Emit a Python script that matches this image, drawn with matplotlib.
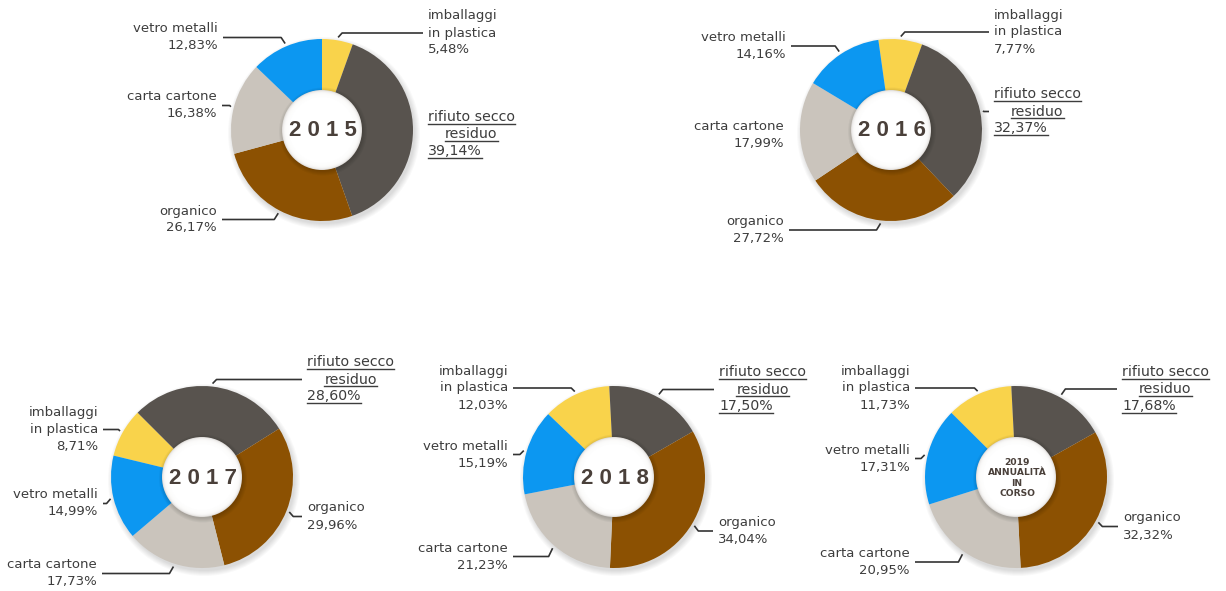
import numpy as np
import matplotlib
matplotlib.use("Agg")
import matplotlib.pyplot as plt
from matplotlib.patches import Circle

# values (%) per year, slice order is clockwise: imballaggi, rifiuto, organico, carta, vetro
years = ["2015", "2016", "2017", "2018", "2019"]
centre_text = ["2 0 1 5", "2 0 1 6", "2 0 1 7", "2 0 1 8", "2019\nANNUALITÀ\nIN\nCORSO"]
categories = ["imballaggi\nin plastica", "rifiuto secco\nresiduo", "organico", "carta cartone", "vetro metalli"]
imballaggi = [5.48, 7.77, 8.71, 12.03, 11.73]
rifiuto = [39.14, 32.37, 28.60, 17.50, 17.68]
organico = [26.17, 27.72, 29.96, 34.04, 32.32]
carta = [16.38, 17.99, 17.73, 21.23, 20.95]
vetro = [12.83, 14.16, 14.99, 15.19, 17.31]
colors = ["#F9D34B", "#58534E", "#8C5102", "#CAC4BC", "#0C97F1"]

# layout (pixels, y downwards)
centres = [(322, 130), (891, 130), (202, 477), (614, 477), (1016, 477)]
start_deg = [0, -8, -76.4, -46.3, -45.2]   # clockwise from 12 o'clock
R, R_IN = 91, 40
# label anchor x, block centre y, side (-1 left / +1 right), draw leader
labels = [
    [(428, 33, 1, True), (428, 134, 1, False), (217, 219.5, -1, True), (217, 105.5, -1, True), (218, 37.5, -1, True)],
    [(994, 32, 1, True), (994, 111.5, 1, True), (784, 230, -1, True), (784, 135, -1, False), (786, 46, -1, True)],
    [(98, 429.5, -1, True), (307, 379.5, 1, True), (307, 516.5, 1, True), (97, 573.5, -1, True), (98, 503.5, -1, True)],
    [(508, 388, -1, True), (719, 389.5, 1, True), (718, 531, 1, True), (508, 556.5, -1, True), (508, 454.5, -1, True)],
    [(910, 388, -1, True), (1122, 389, 1, True), (1123, 526.5, 1, True), (910, 562, -1, True), (910, 458.5, -1, True)],
]
LINE = 17
TXT = "#3d3d3d"

fig = plt.figure(figsize=(12.26, 5.91), dpi=100)
ax = fig.add_axes([0, 0, 1, 1])
renderer = fig.canvas.get_renderer()


def set_limits():
    ax.set_xlim(0, 1226)
    ax.set_ylim(591, 0)
    ax.set_aspect("auto")


def underline(t):
    bb = t.get_window_extent(renderer=renderer).transformed(ax.transData.inverted())
    y = max(bb.y0, bb.y1) - 0.5
    ax.plot([bb.x0, bb.x1], [y, y], color=TXT, lw=1.0)


for i, yr in enumerate(years):
    cx, cy = centres[i]
    vals = [imballaggi[i], rifiuto[i], organico[i], carta[i], vetro[i]]

    # soft outer shadow
    for k in range(6):
        ax.add_patch(Circle((cx + 2, cy + 3), R + 5 - k, color="#000000", alpha=0.022, lw=0))

    ax.pie(vals, colors=colors, center=(cx, cy), radius=R, startangle=-90 + start_deg[i],
           counterclock=True, wedgeprops=dict(width=R - R_IN + 4, linewidth=0), frame=False)
    set_limits()

    # shadow of the centre disc, then the disc itself
    for k in range(5):
        ax.add_patch(Circle((cx + 1, cy + 1.5), R_IN + 4 - k, color="#000000", alpha=0.035, lw=0))
    ax.add_patch(Circle((cx, cy), R_IN, color="#dedbd8", lw=0))
    for k in range(9):
        ax.add_patch(Circle((cx, cy), R_IN - 0.6 - k * 0.7, color="white", alpha=0.4, lw=0))
    ax.add_patch(Circle((cx, cy), R_IN - 7, color="white", lw=0))

    if i < 4:
        ax.text(cx + 1, cy + 1, centre_text[i], ha="center", va="center", fontsize=16,
                fontweight="bold", family="Liberation Sans", color="#4a403a")
    else:
        ax.text(cx + 1, cy + 1, centre_text[i], ha="center", va="center", fontsize=6.6,
                fontweight="bold", family="DejaVu Sans", color="#4a403a", linespacing=1.15)

    # labels and leader lines
    cum = start_deg[i]
    for j, v in enumerate(vals):
        span = v * 3.6
        mid = np.radians(cum + span / 2)
        cum += span
        lx, ly, side, leader = labels[i][j]
        pct = f"{v:.2f}".replace(".", ",") + "%"
        lines = categories[j].split("\n") + [pct]
        y0 = ly - (len(lines) - 1) * LINE / 2
        ha = "left" if side > 0 else "right"
        if j == 1:
            t1 = ax.text(lx, y0, lines[0], ha="left", va="center", fontsize=10.2, color=TXT)
            bb = t1.get_window_extent(renderer=renderer).transformed(ax.transData.inverted())
            t2 = ax.text((bb.x0 + bb.x1) / 2, y0 + LINE, lines[1], ha="center", va="center",
                         fontsize=10.2, color=TXT)
            t3 = ax.text(lx, y0 + 2 * LINE, lines[2], ha="left", va="center", fontsize=10.2, color=TXT)
            for t in (t1, t2, t3):
                underline(t)
        else:
            for k, s in enumerate(lines):
                ax.text(lx, y0 + k * LINE, s, ha=ha, va="center", fontsize=9.5, color=TXT)
        if leader:
            px = cx + (R + 3) * np.sin(mid)
            py = cy - (R + 3) * np.cos(mid)
            hx = lx - side * 5
            ex = px + side * min(4, abs(py - ly))
            ax.plot([hx, ex, px], [ly, ly, py], color="#333333", lw=1.2, solid_capstyle="butt")

set_limits()
ax.axis("off")
fig.savefig("out.png", dpi=100, facecolor="white")
